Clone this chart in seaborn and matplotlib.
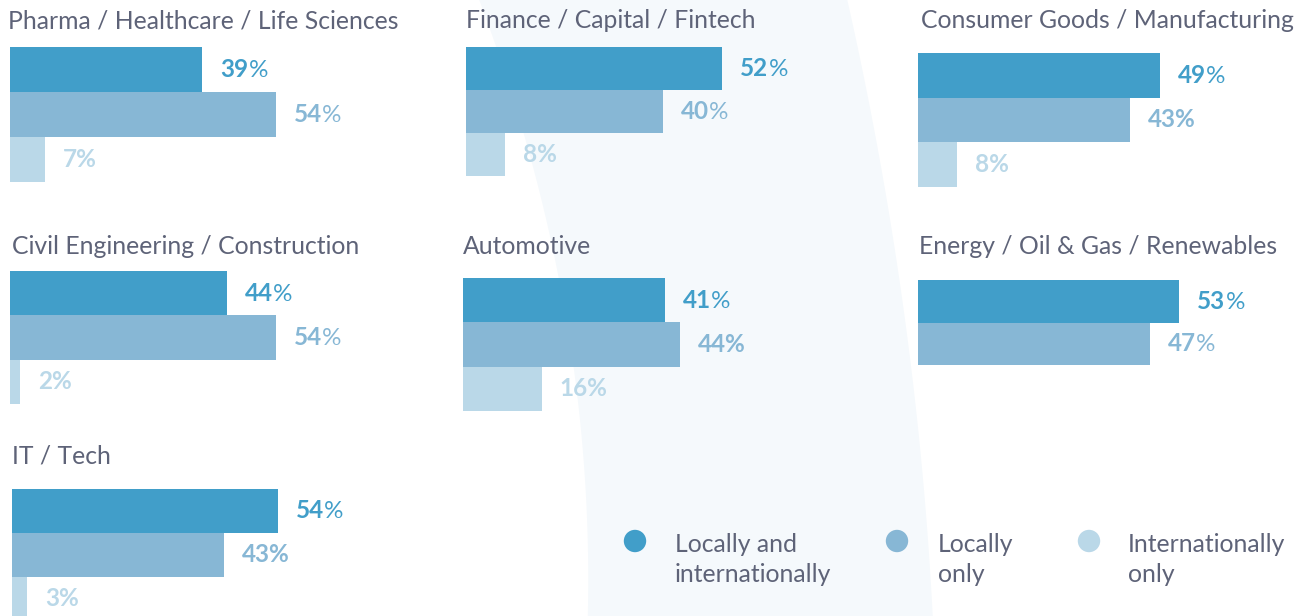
import numpy as np
import pandas as pd
import matplotlib.pyplot as plt
import seaborn as sns
from matplotlib.patches import Polygon

industries = ["Pharma / Healthcare / Life Sciences", "Finance / Capital / Fintech",
              "Consumer Goods / Manufacturing", "Civil Engineering / Construction",
              "Automotive", "Energy / Oil & Gas / Renewables", "IT / Tech"]
local_and_intl = [39, 52, 49, 44, 41, 53, 54]
local_only = [54, 40, 43, 54, 44, 47, 43]
intl_only = [7, 8, 8, 2, 16, np.nan, 3]
series = ["Locally and internationally", "Locally only", "Internationally only"]
legend_lines = [["Locally and", "internationally"], ["Locally", "only"], ["Internationally", "only"]]
colors = ["#419EC9", "#87B7D5", "#BAD8E8"]

rows = []
for k, name in enumerate(industries):
    for s, vals in zip(series, [local_and_intl, local_only, intl_only]):
        rows.append({"industry": name, "series": s, "value": vals[k]})
df = pd.DataFrame(rows).dropna()

# labels where the % sign is bold too (panel index, bar index)
full_bold = {(0, 2), (1, 2), (2, 1), (2, 2), (3, 2), (4, 1), (4, 2), (6, 1), (6, 2)}

# panel layout in pixels: bar left, bar top, bar height, title x, title y
layout = [(10, 47, 45, 8, 21), (466, 47, 43, 466, 21), (918, 53, 44.5, 921, 21),
          (10, 271, 44.3, 12, 246), (463, 278, 44.3, 463, 246), (918, 280, 42.5, 919, 246),
          (12, 489, 44, 12, 456)]

sns.set_theme(style="white")
plt.rcParams["font.family"] = ["Lato", "DejaVu Sans"]

W, H = 1306, 616
PX = 4.93  # pixels per percent
gray = "#5E6378"

fig = plt.figure(figsize=(W / 100, H / 100), dpi=100)
fig.patch.set_facecolor("white")

# background shade + legend layer
bg = fig.add_axes([0, 0, 1, 1], zorder=-1)
bg.set_xlim(0, W)
bg.set_ylim(H, 0)
bg.axis("off")
ys = np.linspace(0, H, 60)
lp = np.polyfit([0, 236, 393, 616], [480, 547, 580, 587], 2)
rp = np.polyfit([0, 236, 393, 616], [848, 890, 917, 932], 2)
pts = list(zip(np.polyval(lp, ys), ys)) + list(zip(np.polyval(rp, ys[::-1]), ys[::-1]))
bg.add_patch(Polygon(pts, closed=True, facecolor="#F5F9FC", edgecolor="none"))

palette = dict(zip(series, colors))
for i, name in enumerate(industries):
    sub = df[df.industry == name].reset_index(drop=True)
    n = len(sub)
    left, top, bh, tx, ty = layout[i]
    ax = fig.add_axes([left / W, 1 - (top + n * bh) / H, 60 * PX / W, n * bh / H])
    ax.patch.set_alpha(0)
    sns.barplot(data=sub, x="value", y="series", hue="series", palette=palette,
                width=1, saturation=1, legend=False, orient="h", linewidth=0, ax=ax)
    ax.set_xlim(0, 60)
    ax.set_ylim(n - 0.5, -0.5)
    ax.axis("off")
    for j, (s, v) in enumerate(zip(sub.series, sub.value)):
        c = palette[s]
        if (i, j) in full_bold:
            ax.text(v + 18 / PX, j, f"{v:.0f}%", color=c, fontsize=17.5,
                    fontweight="bold", va="center", ha="left")
        else:
            t = ax.text(v + 18 / PX, j, f"{v:.0f}", color=c, fontsize=17.5,
                        fontweight="bold", va="center", ha="left")
            ax.annotate("%", xy=(1, 0), xycoords=t, va="bottom", ha="left", color=c,
                        fontsize=17.5, fontweight="normal")
    fig.text(tx / W, 1 - ty / H, name, fontsize=17.8, color=gray, va="center",
             ha="left")

# legend
for (cx, lx), c, lines in zip([(635, 675), (897, 938), (1089, 1128)], colors, legend_lines):
    bg.scatter([cx], [541], s=260, color=c, edgecolor="none")
    for k, line in enumerate(lines):
        bg.text(lx, 545 + 29 * k, line, fontsize=17.8, color=gray, va="center", ha="left")

fig.savefig("out.png", dpi=100)
